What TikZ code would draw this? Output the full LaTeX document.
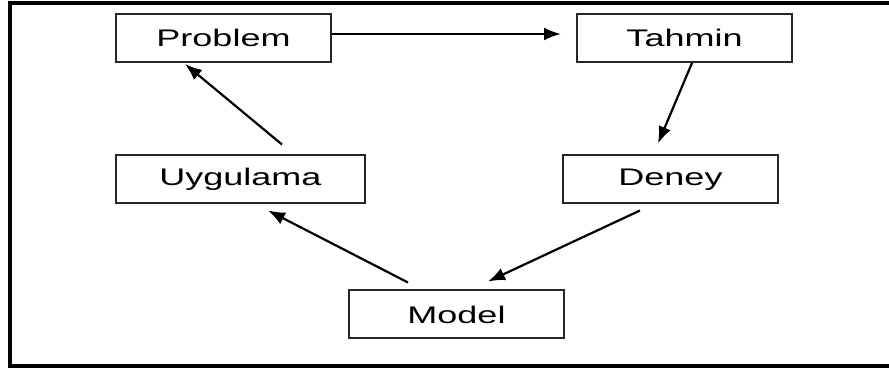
\documentclass[tikz,border=0pt]{standalone}
\usepackage{fontspec}
\setmainfont{Liberation Sans}
\usepackage{graphicx}
\usetikzlibrary{positioning, arrows.meta}
\newcommand{\widetxt}[1]{\scalebox{1.5}[1]{#1}}
\tikzset{Box style/.style={draw=black!85, line width=2pt, rectangle, inner sep=0pt, minimum width=215pt, minimum height=48pt, font=\fontsize{24}{28}\selectfont}}
\tikzset{
	>={Latex[length=17pt, width=13pt]}, % punta de flecha rellena
	Arrow style/.style={->, line width=2.2pt},
}

\begin{document}
\begin{tikzpicture}[x=1pt, y=-1pt]
        \useasboundingbox (0,0) rectangle (889,371);
        % marco (abierto a la derecha)
        \draw[line width=4pt] (889,3) -- (10,3) -- (10,366) -- (889,366);

        \node[Box style] (problem) at (223.5,38) {\widetxt{Problem}};
        \node[Box style] (tahmin) at (684.5,38) {\widetxt{Tahmin}};
        \node[Box style, minimum width=249pt] (uygulama) at (240.5,179.5) {\widetxt{Uygulama}};
        \node[Box style] (deney) at (670.5,179.5) {\widetxt{Deney}};
        \node[Box style] (model) at (456.5,314.5) {\widetxt{Model}};

        \draw[Arrow style] ([yshift=4pt]problem.east) -- ([xshift=-15pt, yshift=4pt]tahmin.west);
        \draw[Arrow style] ([xshift=7.5pt]tahmin.south) -- ([xshift=-12.5pt, yshift=11pt]deney.north);
        \draw[Arrow style] ([xshift=-30.5pt, yshift=-6pt]deney.south) -- ([xshift=31.5pt, yshift=8pt]model.north);
        \draw[Arrow style] ([xshift=-48.5pt, yshift=7pt]model.north) -- ([xshift=27.5pt, yshift=-6pt]uygulama.south);
        \draw[Arrow style] ([xshift=41.5pt, yshift=10pt]uygulama.north) -- ([xshift=-38.5pt, yshift=-1pt]problem.south);
\end{tikzpicture}
\end{document}
